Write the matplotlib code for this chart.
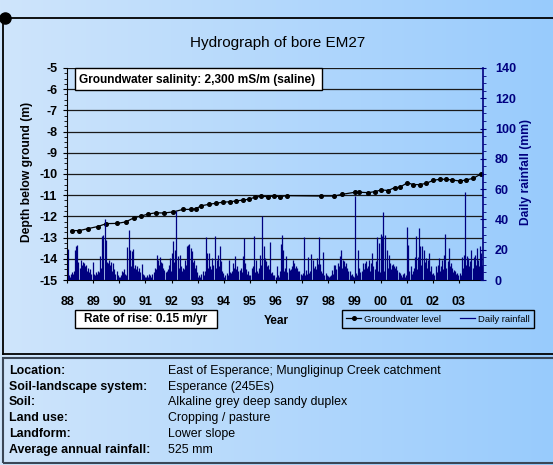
import matplotlib
matplotlib.use("Agg")
import matplotlib.pyplot as plt
from matplotlib.patches import Rectangle
from matplotlib.lines import Line2D
import numpy as np

plt.rcParams['font.family'] = ['Liberation Sans', 'DejaVu Sans']
plt.rcParams['axes.unicode_minus'] = False

W, H = 553, 465
NAVY = '#000080'

# groundwater level, depth below ground (m)
gw_year = [1988.18, 1988.47, 1988.79, 1989.17, 1989.51, 1989.92, 1990.25, 1990.57, 1990.85,
           1991.10, 1991.40, 1991.70, 1992.06, 1992.44, 1992.76, 1992.92, 1993.14, 1993.43,
           1993.69, 1993.97, 1994.22, 1994.48, 1994.73, 1994.96, 1995.18, 1995.43, 1995.68,
           1995.92, 1996.17, 1996.41, 1997.72, 1998.23, 1998.52, 1999.03, 1999.18, 1999.53,
           1999.79, 2000.03, 2000.29, 2000.54, 2000.73, 2001.03, 2001.24, 2001.50, 2001.75,
           2002.01, 2002.26, 2002.49, 2002.73, 2003.03, 2003.28, 2003.55, 2003.83]
gw_depth = [-12.67, -12.67, -12.58, -12.48, -12.34, -12.33, -12.26, -12.06, -11.98,
            -11.89, -11.83, -11.84, -11.79, -11.67, -11.67, -11.64, -11.50, -11.43,
            -11.38, -11.33, -11.31, -11.27, -11.23, -11.19, -11.10, -11.05, -11.07,
            -11.04, -11.07, -11.02, -11.04, -11.04, -10.96, -10.86, -10.86, -10.88,
            -10.83, -10.75, -10.78, -10.64, -10.63, -10.41, -10.50, -10.50, -10.44,
            -10.30, -10.25, -10.25, -10.28, -10.33, -10.28, -10.20, -10.01]

# rainfall (mm) in half-month steps, one list per year
rain_1988 = [20.7, 3, 2, 4, 5, 4, 6, 20, 22.7, 23, 12, 8, 13, 10, 12, 11, 9, 10, 6, 8, 5, 7, 4, 12]
rain_1989 = [4, 3, 5, 4, 6, 5, 15.6, 8, 28.9, 30, 40.5, 26.7, 12, 11, 13, 10, 12, 6, 11.2, 7, 4, 5.7, 3, 2]
rain_1990 = [2, 3, 6, 5, 7, 4, 3, 21.8, 33.3, 20, 9, 19, 20.5, 8, 10, 7, 9, 6, 8, 5, 10.8, 4, 3, 2]
rain_1991 = [2, 3, 2, 4, 3, 2, 4, 5, 8, 7, 16.7, 13.4, 10, 15, 12, 11, 8, 6.8, 5, 5.7, 7, 10, 14.5, 6]
rain_1992 = [17.8, 25.6, 12, 20, 45.8, 15.6, 8, 16.7, 9, 6, 8, 7, 13.4, 10, 22.2, 23.3, 24, 21, 19, 12, 13.4, 8, 10, 5]
rain_1993 = [2, 3.5, 2, 4, 5.7, 3, 6, 28.4, 17.8, 8, 17.8, 9, 7, 14.5, 10, 29, 8, 13.4, 16.7, 9, 22.7, 12.3, 6, 4.6]
rain_1994 = [2, 3, 4.6, 3, 13, 5, 4.6, 6, 11.2, 8, 15.6, 7, 9, 6, 6.8, 8, 5, 15.6, 27.8, 11.2, 7, 4, 5.7, 3]
rain_1995 = [3, 8, 9, 28.9, 5, 13.4, 6, 4.6, 8, 16.7, 10, 42, 22.2, 14.5, 12.3, 9, 10, 7, 25.3, 4.6, 5, 3, 3.5, 2]
rain_1996 = [9, 3, 2, 5.7, 24, 30, 20, 6, 8, 16, 5, 8, 6.8, 7, 9, 13, 11.2, 8, 9.5, 8, 6, 5.7, 4, 3.5]
rain_1997 = [4.6, 28.4, 3, 6.8, 4, 15.2, 4.6, 6, 17.4, 13.4, 8, 9, 7, 14.5, 10.8, 28.4, 10.8, 6, 4.6, 18.5, 3, 4.6, 3, 2.4]
rain_1998 = [2, 2.4, 3, 6.8, 4, 10, 10, 7, 11.2, 9, 15.6, 20, 8, 13.4, 12.3, 9, 11.2, 8, 6, 5.7, 3.5, 4, 2.4, 2]
rain_1999 = [55.3, 4.6, 3, 20, 8, 5, 6, 11.2, 7, 11.2, 12.3, 8, 9, 13, 6, 11.2, 17.8, 9, 7, 12.3, 28.4, 6, 24.4, 5]
rain_2000 = [30.6, 28.9, 45.2, 6, 29.7, 20, 8, 16.7, 11.2, 7, 10, 10.8, 9, 8, 9.5, 6.4, 5, 4.6, 3, 2, 4.2, 4.6, 2, 3]
rain_2001 = [35, 23.3, 6, 9, 4, 5.7, 8, 15.2, 28.9, 7, 15.2, 34.4, 22.7, 10, 22.7, 20, 12, 14.5, 8, 13.4, 17.8, 6, 9, 4]
rain_2002 = [4.6, 3, 9, 5, 10, 14.5, 6, 9, 13.4, 7, 16.7, 30.6, 8, 12.3, 21, 9, 11.2, 8, 5, 6.8, 5.7, 4, 4.6, 3]
rain_2003 = [4.6, 3, 15.2, 8, 16.7, 58.1, 10, 15.6, 14.5, 9, 12.3, 19.6, 8, 15.2, 16.7, 10, 21, 13, 9, 22.7, 17.8, 10]

rain_by_year = {1988: rain_1988, 1989: rain_1989, 1990: rain_1990, 1991: rain_1991,
                1992: rain_1992, 1993: rain_1993, 1994: rain_1994, 1995: rain_1995,
                1996: rain_1996, 1997: rain_1997, 1998: rain_1998, 1999: rain_1999,
                2000: rain_2000, 2001: rain_2001, 2002: rain_2002, 2003: rain_2003}

year_ticks = list(range(1988, 2004))
year_labels = ['88', '89', '90', '91', '92', '93', '94', '95', '96', '97',
               '98', '99', '00', '01', '02', '03']

info_labels = ['Location:', 'Soil-landscape system:', 'Soil:', 'Land use:',
               'Landform:', 'Average annual rainfall:']
info_values = ['East of Esperance; Mungliginup Creek catchment', 'Esperance (245Es)',
               'Alkaline grey deep sandy duplex', 'Cropping / pasture',
               'Lower slope', '525 mm']


def fx(x):
    return x / W


def fy(y):
    return 1 - y / H


fig = plt.figure(figsize=(W / 100, H / 100), dpi=100)

# light blue gradient background
bg = fig.add_axes([0, 0, 1, 1], zorder=-10)
grad = np.linspace(0, 1, 256).reshape(1, -1)
cmap = matplotlib.colors.LinearSegmentedColormap.from_list('bg', ['#cfe5fb', '#98cbfd'])
bg.imshow(grad, aspect='auto', cmap=cmap, extent=[0, 1, 0, 1])
bg.axis('off')

ax = fig.add_axes([fx(67), fy(280), fx(483) - fx(67), fy(68) - fy(280)])
ax.patch.set_visible(False)
ax.set_xlim(1988, 2003.92)
ax.set_ylim(-15, -5)
ax.set_yticks(range(-15, -4))
ax.set_yticklabels([str(v) for v in range(-15, -4)])
ax.set_yticks(np.arange(-15, -4.9, 0.25), minor=True)
ax.set_xticks(year_ticks)
ax.set_xticklabels(year_labels)
ax.grid(axis='y', color='#1a1a1a', lw=0.9)
ax.spines['top'].set_visible(False)
ax.spines['right'].set_visible(False)
ax.tick_params(axis='y', which='major', length=3, pad=4, labelsize=9)
ax.tick_params(axis='y', which='minor', length=2)
ax.tick_params(axis='x', length=2.5, pad=9, labelsize=9)
for t in ax.get_xticklabels() + ax.get_yticklabels():
    t.set_fontweight('bold')

gw_line, = ax.plot(gw_year, gw_depth, color='black', lw=0.9, marker='o', ms=2.6)

ax2 = ax.twinx()
ax2.set_ylim(0, 140)
ax2.set_yticks(range(0, 141, 20))
ax2.set_yticks(range(0, 141, 5), minor=True)
for sp in ['top', 'left', 'bottom']:
    ax2.spines[sp].set_visible(False)
ax2.spines['right'].set_color(NAVY)
ax2.spines['right'].set_linewidth(1.2)
ax2.tick_params(axis='y', which='major', direction='inout', length=5, pad=6,
                colors=NAVY, labelsize=9)
ax2.tick_params(axis='y', which='minor', length=2.5, colors=NAVY)
for t in ax2.get_yticklabels():
    t.set_fontweight('bold')

rx, ry = [], []
for yr, vals in rain_by_year.items():
    for i, v in enumerate(vals):
        rx.append(yr + (i + 0.5) / 24)
        ry.append(v)
ax2.vlines(rx, 0, ry, color=NAVY, lw=0.9)

# titles and axis labels
fig.text(fx(278), fy(43), 'Hydrograph of bore EM27', fontsize=11, ha='center', va='center')
fig.text(fx(27), fy(172), 'Depth below ground (m)', fontsize=8.7, fontweight='bold',
         rotation=90, ha='center', va='center')
fig.text(fx(526), fy(172), 'Daily rainfall (mm)', fontsize=8.7, fontweight='bold',
         color=NAVY, rotation=90, ha='center', va='center')
fig.text(fx(276), fy(321), 'Year', fontsize=8.6, fontweight='bold', ha='center', va='center')

# annotation boxes
fig.add_artist(Rectangle((fx(75), fy(90)), fx(322) - fx(75), fy(68) - fy(90),
                         transform=fig.transFigure, fc='white', ec='black', lw=1))
fig.text(fx(79), fy(80), 'Groundwater salinity: 2,300 mS/m (saline)', fontsize=8.6,
         fontweight='bold', ha='left', va='center')
fig.add_artist(Rectangle((fx(75), fy(328)), fx(217) - fx(75), fy(310) - fy(328),
                         transform=fig.transFigure, fc='white', ec='black', lw=1))
fig.text(fx(146), fy(319), 'Rate of rise: 0.15 m/yr', fontsize=8.6,
         fontweight='bold', ha='center', va='center')

# legend
rain_handle = Line2D([], [], color=NAVY, lw=0.9)
leg = fig.legend([gw_line, rain_handle], ['Groundwater level', 'Daily rainfall'],
                 loc='center', bbox_to_anchor=(fx(438), fy(319)), ncol=2, fontsize=6.8,
                 frameon=True, fancybox=False, edgecolor='black', facecolor='none',
                 framealpha=1, handlelength=1.6, handletextpad=0.3, columnspacing=2.0,
                 borderpad=0.45, borderaxespad=0)
leg.get_frame().set_linewidth(1)

# outer chart frame
fig.add_artist(Line2D([fx(5), 1], [fy(18), fy(18)], color='black', lw=1.3,
                      transform=fig.transFigure))
fig.add_artist(Line2D([fx(3), fx(3)], [fy(18), fy(354)], color='black', lw=1.3,
                      transform=fig.transFigure))
fig.add_artist(Line2D([fx(3), 1], [fy(354), fy(354)], color='black', lw=1.3,
                      transform=fig.transFigure))
fig.add_artist(Line2D([fx(5)], [fy(18)], marker='o', ms=8, color='black',
                      transform=fig.transFigure))

# site information box
fig.add_artist(Rectangle((fx(3), fy(463)), 1 - fx(3) + 0.01, fy(358) - fy(463),
                         transform=fig.transFigure, fc='none', ec='#3a4656', lw=1.5))
row_y = [370.7, 386.7, 402.3, 418.3, 434.3, 450]
for lab, val, y in zip(info_labels, info_values, row_y):
    fig.text(fx(9), fy(y), lab, fontsize=8.9, fontweight='bold', ha='left', va='center')
    fig.text(fx(168), fy(y), val, fontsize=8.9, ha='left', va='center')

fig.savefig('out.png', dpi=100)
